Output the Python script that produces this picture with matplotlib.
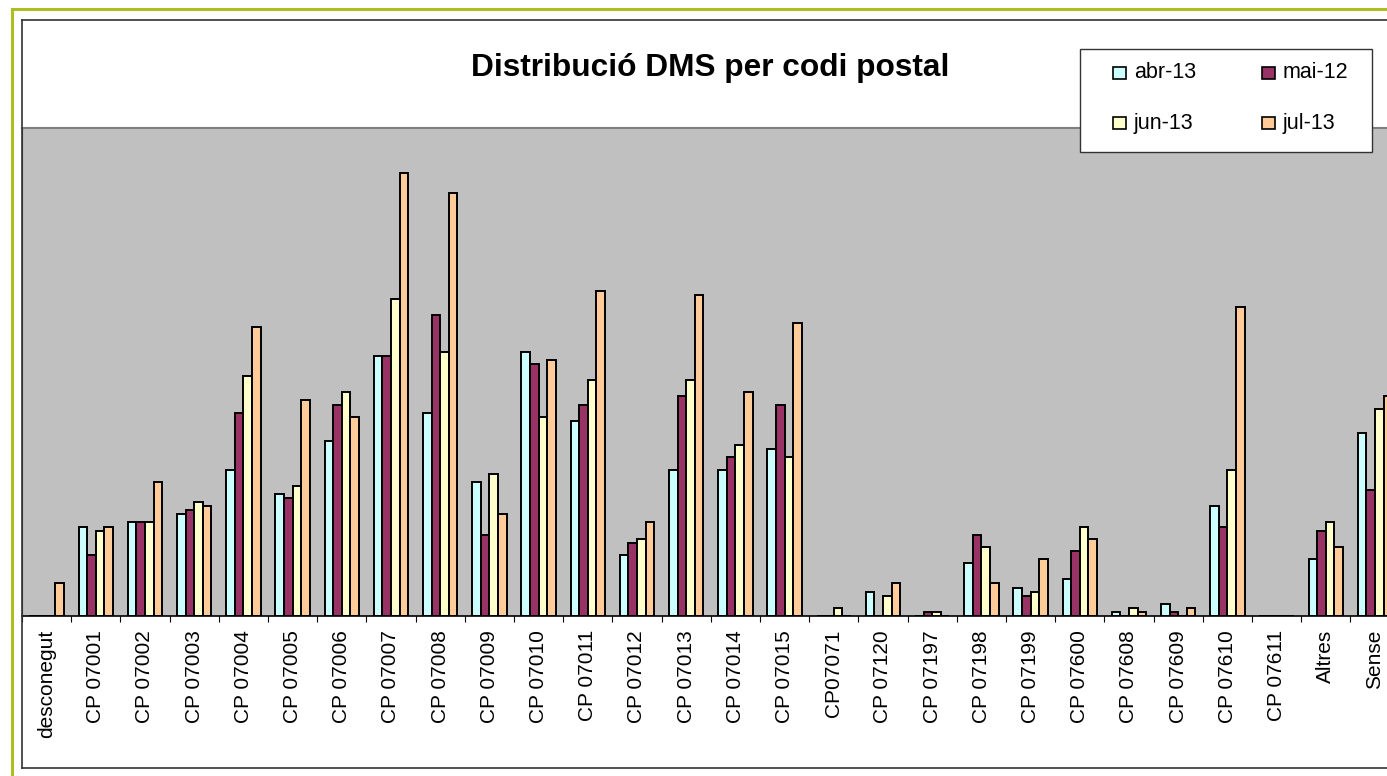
import numpy as np
import matplotlib
matplotlib.use("Agg")
import matplotlib.pyplot as plt
from matplotlib.patches import Rectangle
from matplotlib.lines import Line2D

plt.rcParams['font.family'] = ['Liberation Sans', 'DejaVu Sans']

W, H = 1387, 776

categories = ['desconegut', 'CP 07001', 'CP 07002', 'CP 07003', 'CP 07004', 'CP 07005',
              'CP 07006', 'CP 07007', 'CP 07008', 'CP 07009', 'CP 07010', 'CP 07011',
              'CP 07012', 'CP 07013', 'CP 07014', 'CP 07015', 'CP07071', 'CP 07120',
              'CP 07197', 'CP 07198', 'CP 07199', 'CP 07600', 'CP 07608', 'CP 07609',
              'CP 07610', 'CP 07611', 'Altres', 'Sense']

series_names = ['abr-13', 'mai-12', 'jun-13', 'jul-13']
series_colors = ['#ccffff', '#993366', '#ffffcc', '#ffcc99']

abr13 = [0, 22, 23, 25, 36, 30, 43, 64, 50, 33, 65, 48, 15, 36, 36, 41, 0, 6, 0, 13, 7, 9, 1, 3, 27, 0, 14, 45]
mai12 = [0, 15, 23, 26, 50, 29, 52, 64, 74, 20, 62, 52, 18, 54, 39, 52, 0, 0, 1, 20, 5, 16, 0, 1, 22, 0, 21, 31]
jun13 = [0, 21, 23, 28, 59, 32, 55, 78, 65, 35, 49, 58, 19, 58, 42, 39, 2, 5, 1, 17, 6, 22, 2, 0, 36, 0, 23, 51]
jul13 = [8, 22, 33, 27, 71, 53, 49, 109, 104, 25, 63, 80, 23, 79, 55, 72, 0, 8, 0, 8, 14, 19, 1, 2, 76, 0, 17, 54]

series = [abr13, mai12, jun13, jul13]


def fx(x):
    return x / W


def fy(y):
    return 1 - y / H


fig = plt.figure(figsize=(W / 100, H / 100), dpi=100)
fig.patch.set_facecolor('white')

# plot area in pixel terms: left 22, top 128, baseline 616, 49.2 px per category
ncat = len(categories)
cat_px = 49.2
ax = fig.add_axes([fx(22), fy(616), ncat * cat_px / W, (616 - 128) / H])
ax.set_facecolor('#c0c0c0')

x = np.arange(ncat) + 0.5
w = 1 / 5.7
for k, (vals, name, col) in enumerate(zip(series, series_names, series_colors)):
    ax.bar(x + (k - 1.5) * w, vals, width=w, color=col, edgecolor='black',
           linewidth=1.4, label=name, zorder=3)

ax.set_xlim(0, ncat)
ax.set_ylim(0, 120)
ax.set_yticks([])
ax.set_xticks(x)
ax.set_xticklabels(categories, rotation=90, va='top', ha='center', fontsize=15)
ax.set_xticks(np.arange(ncat + 1), minor=True)
ax.tick_params(axis='x', which='major', length=0, pad=10)
ax.tick_params(axis='x', which='minor', length=4.3, width=0.8, color='black', direction='out')
ax.spines['top'].set_color('#808080')
ax.spines['top'].set_linewidth(1.5)
ax.spines['left'].set_color('#333333')
ax.spines['right'].set_visible(False)
ax.spines['bottom'].set_color('black')
ax.spines['bottom'].set_linewidth(1.2)

# outer green frame
green = '#aebd1f'
fig.add_artist(Line2D([fx(12), fx(12)], [fy(9), fy(776)], color=green, lw=2.2))
fig.add_artist(Line2D([fx(12), fx(W)], [fy(9), fy(9)], color=green, lw=2.2))

# chart area border
dark = '#333333'
fig.add_artist(Line2D([fx(22), fx(22)], [fy(20), fy(768)], color=dark, lw=1.2))
fig.add_artist(Line2D([fx(22), fx(W)], [fy(20), fy(20)], color=dark, lw=1.2))
fig.add_artist(Line2D([fx(22), fx(W)], [fy(768), fy(768)], color=dark, lw=1.2))

# title
fig.text(fx(710), fy(76), 'Distribució DMS per codi postal', ha='center', va='baseline',
         fontsize=22.8, fontweight='bold')

# legend drawn by hand to match the Excel layout
fig.add_artist(Rectangle((fx(1080), fy(152)), (1372 - 1080) / W, (152 - 49) / H,
                         transform=fig.transFigure, facecolor='white', edgecolor=dark,
                         lw=1.0, zorder=5))
leg_x = [1113, 1262]
leg_y = [73, 123]
for k, (name, col) in enumerate(zip(series_names, series_colors)):
    lx = leg_x[k % 2]
    ly = leg_y[k // 2]
    fig.add_artist(Rectangle((fx(lx), fy(ly + 6)), 13 / W, 12 / H, transform=fig.transFigure,
                             facecolor=col, edgecolor='black', lw=1.2, zorder=6))
    fig.text(fx(lx + 21), fy(ly), name, ha='left', va='center', fontsize=15.5, zorder=6)

fig.savefig('out.png', dpi=100)
